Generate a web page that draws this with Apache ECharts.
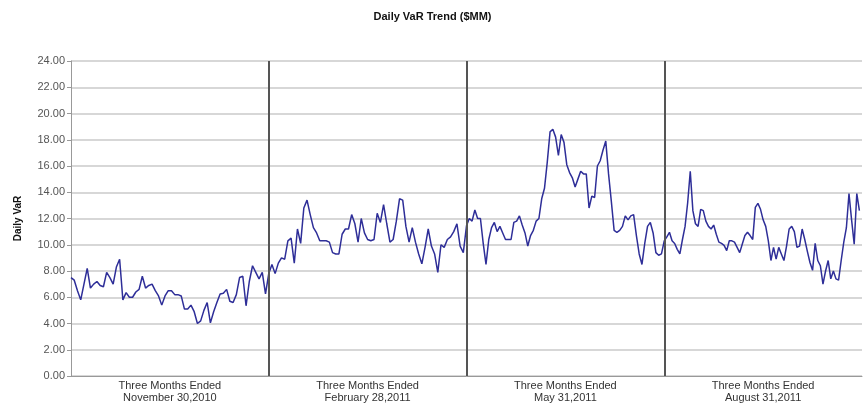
<!DOCTYPE html>
<html lang="en">
<head>
<meta charset="UTF-8">
<title>Daily VaR Trend</title>
<script src="https://cdn.jsdelivr.net/npm/echarts@6.0.0/dist/echarts.min.js"></script>
<style>
  html, body { margin: 0; padding: 0; background: #fff; }
  #chart { width: 865px; height: 410px; }
</style>
</head>
<body>
<div id="chart"></div>
<script>
  // quarter labels (x axis, two lines each)
  const quarterLabels = [
    'Three Months Ended\nNovember 30,2010',
    'Three Months Ended\nFebruary 28,2011',
    'Three Months Ended\nMay 31,2011',
    'Three Months Ended\nAugust 31,2011'
  ];

  // daily VaR, one array per quarter
  const q1 = [7.5, 7.3, 6.5, 5.8, 7.0, 8.2, 6.7, 7.0, 7.2, 6.9, 6.8, 7.9, 7.5, 7.0, 8.3, 8.9, 5.8, 6.35, 6.0, 6.0,
    6.4, 6.6, 7.6, 6.7, 6.9, 7.0, 6.5, 6.1, 5.4, 6.1, 6.5, 6.5, 6.2, 6.2, 6.1, 5.1, 5.1, 5.4, 4.9, 4.0,
    4.2, 5.0, 5.6, 4.05, 4.9, 5.6, 6.25, 6.3, 6.6, 5.7, 5.6, 6.2, 7.5, 7.6, 5.35, 7.2, 8.4, 7.9, 7.4, 7.9, 6.25];
  const q2 = [7.8, 8.5, 7.8, 8.6, 9.0, 8.9, 10.3, 10.5, 8.6, 11.2, 10.1, 12.8, 13.4, 12.3, 11.3, 10.9, 10.3, 10.3, 10.3, 10.2,
    9.4, 9.3, 9.3, 10.8, 11.2, 11.2, 12.3, 11.6, 10.2, 12.0, 10.9, 10.4, 10.3, 10.4, 12.4, 11.7, 13.05, 11.6, 10.2, 10.4,
    11.8, 13.5, 13.4, 11.4, 10.2, 11.3, 10.2, 9.3, 8.55, 9.8, 11.2, 9.9, 9.3, 7.9, 10.0, 9.8, 10.4, 10.6, 11.0, 11.6,
    9.9, 9.4];
  const q3 = [11.45, 12.0, 11.8, 12.65, 12.0, 12.0, 10.1, 8.5, 10.4, 11.3, 11.7, 11.0, 11.4, 10.9, 10.4, 10.4, 10.4, 11.7, 11.8, 12.2,
    11.5, 10.9, 9.9, 10.7, 11.1, 11.8, 12.0, 13.5, 14.3, 16.3, 18.6, 18.8, 18.2, 16.8, 18.4, 17.8, 16.1, 15.5, 15.1, 14.4,
    15.0, 15.6, 15.4, 15.4, 12.8, 13.7, 13.6, 16.0, 16.4, 17.2, 17.9, 15.4, 13.3, 11.1, 10.95, 11.1, 11.4, 12.2, 11.9, 12.2,
    12.3, 10.7, 9.3, 8.5, 10.1, 11.4, 11.7, 10.9, 9.4, 9.2, 9.3];
  const q4 = [10.3, 10.6, 10.95, 10.3, 10.1, 9.65, 9.3, 10.4, 11.4, 13.2, 15.6, 12.6, 11.6, 11.4, 12.7, 12.6, 11.8, 11.4, 11.2, 11.5,
    10.8, 10.2, 10.1, 9.95, 9.55, 10.3, 10.3, 10.2, 9.8, 9.4, 10.05, 10.7, 10.95, 10.7, 10.4, 12.85, 13.15, 12.7, 11.9, 11.4,
    10.3, 8.8, 9.8, 8.9, 9.8, 9.3, 8.8, 9.9, 11.2, 11.4, 11.0, 9.8, 9.9, 11.2, 10.4, 9.5, 8.65, 8.05, 10.1, 8.8,
    8.4, 7.0, 8.0, 8.8, 7.4, 8.0, 7.4, 7.3, 8.8, 10.2, 11.3, 13.9, 11.9, 10.05, 13.9, 12.6];

  const quarters = [q1, q2, q3, q4];

  // spread each quarter's days evenly over its quarter on the x axis
  const points = [];
  quarters.forEach(function (arr, q) {
    arr.forEach(function (v, i) {
      points.push([q + i / arr.length, v]);
    });
  });

  const chart = echarts.init(document.getElementById('chart'));

  const option = {
    animation: false,
    textStyle: { fontFamily: 'Liberation Sans, Arial, sans-serif' },
    title: {
      text: 'Daily VaR Trend ($MM)',
      left: 'center',
      top: 6,
      textStyle: { fontSize: 11, fontWeight: 'bold', color: '#111' }
    },
    grid: { left: 71, right: 0, top: 61, bottom: 34 },
    xAxis: {
      type: 'value',
      min: 0,
      max: 4,
      interval: 0.5,
      axisLine: { show: true, lineStyle: { color: '#999', width: 1 } },
      axisTick: { show: false },
      splitLine: { show: false },
      axisLabel: {
        color: '#333',
        fontSize: 11,
        lineHeight: 12,
        margin: 4,
        showMinLabel: true,
        showMaxLabel: true,
        formatter: function (v) {
          const k = v - 0.5;
          return Number.isInteger(k) ? quarterLabels[k] : '';
        }
      }
    },
    yAxis: {
      type: 'value',
      min: 0,
      max: 24,
      interval: 2,
      name: 'Daily VaR',
      nameLocation: 'middle',
      nameGap: 48,
      nameTextStyle: { fontSize: 10, fontWeight: 'bold', color: '#111' },
      axisLine: { show: true, lineStyle: { color: '#999', width: 1 } },
      axisTick: { show: true, length: 4, lineStyle: { color: '#999' } },
      axisLabel: {
        color: '#555',
        fontSize: 11,
        margin: 6,
        formatter: function (v) { return v.toFixed(2); }
      },
      splitLine: { lineStyle: { color: '#cacaca', width: 1.5 } }
    },
    series: [{
      type: 'line',
      data: points,
      showSymbol: false,
      lineStyle: { color: '#2e2e98', width: 1.5 },
      markLine: {
        silent: true,
        symbol: 'none',
        label: { show: false },
        lineStyle: { color: '#555', width: 2, type: 'solid' },
        data: [{ xAxis: 1 }, { xAxis: 2 }, { xAxis: 3 }]
      }
    }]
  };

  chart.setOption(option);
</script>
</body>
</html>
